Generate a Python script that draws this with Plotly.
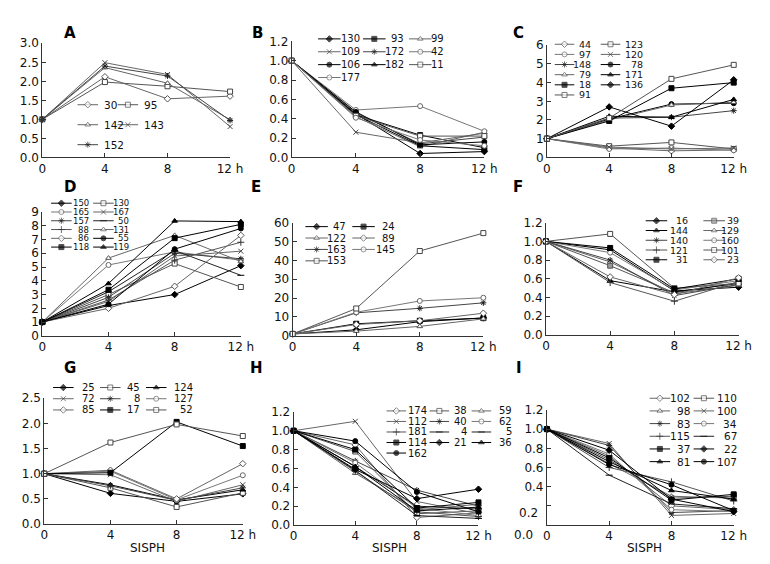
import plotly.graph_objects as go

W, H = 770, 564
TIMES = [0, 4, 8, 12]
X_TICKTEXT = ["0", "4", "8", "12 h"]

# ---------------- data ----------------
A_labels = ["30", "95", "142", "143", "152"]
A_marks = ["d", "s", "t", "x", "*"]
A_values = [
    [1.0, 2.12, 1.54, 1.61],
    [1.0, 1.98, 1.87, 1.73],
    [1.0, 2.36, 1.95, 0.99],
    [1.0, 2.49, 2.18, 0.81],
    [1.0, 2.40, 2.14, 0.97],
]

B_labels = ["130", "93", "99", "109", "172", "42", "106", "182", "11", "177"]
B_marks = ["D", "S", "t", "x", "*", "c", "C", "T", "s", "c"]
B_values = [
    [1.0, 0.45, 0.04, 0.06],
    [1.0, 0.44, 0.23, 0.10],
    [1.0, 0.42, 0.11, 0.26],
    [1.0, 0.26, 0.15, 0.25],
    [1.0, 0.46, 0.14, 0.21],
    [1.0, 0.49, 0.53, 0.27],
    [1.0, 0.47, 0.13, 0.16],
    [1.0, 0.44, 0.12, 0.08],
    [1.0, 0.43, 0.22, 0.22],
    [1.0, 0.41, 0.18, 0.12],
]

C_labels = ["44", "123", "97", "120", "148", "78", "79", "171", "18", "136", "91"]
C_marks = ["d", "s", "c", "x", "*", "C", "t", "T", "S", "D", "s"]
C_values = [
    [1.0, 0.50, 0.35, 0.40],
    [1.0, 0.60, 0.80, 0.45],
    [1.0, 0.45, 0.50, 0.38],
    [1.0, 0.55, 0.45, 0.50],
    [1.0, 2.10, 2.15, 2.50],
    [1.0, 2.05, 2.85, 2.90],
    [1.0, 2.00, 2.80, 2.95],
    [1.0, 2.20, 2.15, 3.10],
    [1.0, 1.95, 3.70, 4.00],
    [1.0, 2.70, 1.67, 4.15],
    [1.0, 2.10, 4.20, 4.95],
]

D_labels = ["150", "130", "165", "167", "157", "50", "88", "131", "86", "55", "118", "119"]
D_marks = ["D", "s", "c", "x", "*", "-", "+", "t", "d", "C", "S", "T"]
D_values = [
    [1.0, 2.20, 3.00, 5.10],
    [1.0, 3.00, 5.25, 3.55],
    [1.0, 5.15, 6.10, 5.50],
    [1.0, 2.50, 5.80, 6.15],
    [1.0, 2.80, 6.00, 5.60],
    [1.0, 3.20, 6.20, 4.40],
    [1.0, 2.60, 5.50, 6.80],
    [1.0, 5.65, 7.30, 5.40],
    [1.0, 2.00, 3.60, 7.30],
    [1.0, 2.30, 6.30, 7.80],
    [1.0, 3.35, 7.10, 8.10],
    [1.0, 3.80, 8.35, 8.30],
]

E_labels = ["47", "24", "122", "89", "163", "145", "153"]
E_marks = ["D", "S", "t", "d", "*", "c", "s"]
E_values = [
    [1.0, 3.2, 7.5, 9.5],
    [1.0, 6.4, 8.0, 9.4],
    [1.0, 2.5, 5.0, 9.0],
    [1.0, 6.0, 8.0, 12.0],
    [1.0, 12.2, 14.6, 17.5],
    [1.0, 12.5, 18.5, 20.2],
    [1.0, 14.5, 45.0, 54.5],
]

F_labels = ["16", "39", "144", "129", "140", "160", "121", "101", "31", "23"]
F_marks = ["D", "g", "T", "t", "*", "c", "+", "s", "S", "d"]
F_values = [
    [1.0, 0.91, 0.47, 0.51],
    [1.0, 0.74, 0.45, 0.56],
    [1.0, 0.58, 0.46, 0.55],
    [1.0, 0.78, 0.44, 0.53],
    [1.0, 0.80, 0.42, 0.54],
    [1.0, 0.88, 0.48, 0.58],
    [1.0, 0.56, 0.36, 0.57],
    [1.0, 1.08, 0.50, 0.55],
    [1.0, 0.93, 0.49, 0.60],
    [1.0, 0.62, 0.43, 0.61],
]

G_labels = ["25", "45", "124", "72", "8", "127", "85", "17", "52"]
G_marks = ["D", "s", "T", "x", "*", "c", "d", "S", "s"]
G_values = [
    [1.0, 0.61, 0.45, 0.60],
    [1.0, 0.72, 0.34, 0.62],
    [1.0, 0.78, 0.48, 0.68],
    [1.0, 0.98, 0.45, 0.78],
    [1.0, 0.76, 0.47, 0.72],
    [1.0, 1.05, 0.48, 0.97],
    [1.0, 1.07, 0.50, 1.20],
    [1.0, 1.02, 2.03, 1.55],
    [1.0, 1.62, 1.98, 1.75],
]

H_labels = ["174", "38", "59", "112", "40", "62", "181", "4", "5", "114", "21", "36", "162"]
H_marks = ["d", "s", "t", "x", "*", "c", "+", "-", "-", "S", "D", "T", "C"]
H_values = [
    [1.0, 0.85, 0.08, 0.13],
    [1.0, 0.78, 0.12, 0.15],
    [1.0, 0.55, 0.16, 0.22],
    [1.0, 1.10, 0.25, 0.12],
    [1.0, 0.68, 0.37, 0.20],
    [1.0, 0.66, 0.18, 0.10],
    [1.0, 0.57, 0.14, 0.09],
    [1.0, 0.62, 0.20, 0.17],
    [1.0, 0.58, 0.10, 0.07],
    [1.0, 0.80, 0.18, 0.24],
    [1.0, 0.59, 0.28, 0.38],
    [1.0, 0.62, 0.15, 0.19],
    [1.0, 0.89, 0.35, 0.14],
]

I_labels = ["102", "110", "98", "100", "83", "34", "115", "67", "37", "22", "81", "107"]
I_marks = ["d", "s", "t", "x", "*", "c", "+", "-", "S", "D", "T", "C"]
I_values = [
    [1.0, 0.72, 0.20, 0.16],
    [1.0, 0.68, 0.28, 0.30],
    [1.0, 0.64, 0.30, 0.28],
    [1.0, 0.85, 0.10, 0.12],
    [1.0, 0.83, 0.13, 0.15],
    [1.0, 0.74, 0.16, 0.14],
    [1.0, 0.60, 0.45, 0.25],
    [1.0, 0.52, 0.22, 0.17],
    [1.0, 0.70, 0.26, 0.32],
    [1.0, 0.78, 0.27, 0.14],
    [1.0, 0.66, 0.36, 0.27],
    [1.0, 0.63, 0.42, 0.15],
]

# ---------------- styles ----------------
STY = {
    "D": dict(symbol="diamond", fill="#000", edge="#000", line="#000", thin=False),
    "d": dict(symbol="diamond", fill="#fff", edge="#555", line="#666", thin=False),
    "S": dict(symbol="square", fill="#000", edge="#000", line="#000", thin=False),
    "s": dict(symbol="square", fill="#fff", edge="#444", line="#555", thin=False),
    "g": dict(symbol="square", fill="#999", edge="#555", line="#555", thin=False),
    "T": dict(symbol="triangle-up", fill="#000", edge="#000", line="#000", thin=False),
    "t": dict(symbol="triangle-up", fill="#fff", edge="#555", line="#666", thin=False),
    "C": dict(symbol="circle", fill="#000", edge="#000", line="#000", thin=False),
    "c": dict(symbol="circle", fill="#fff", edge="#666", line="#777", thin=False),
    "x": dict(symbol="x-thin-open", fill="#444", edge="#444", line="#666", thin=True),
    "*": dict(symbol="asterisk-open", fill="#222", edge="#222", line="#444", thin=True),
    "+": dict(symbol="cross-thin-open", fill="#333", edge="#333", line="#555", thin=True),
    "-": dict(symbol="line-ew-open", fill="#000", edge="#000", line="#222", thin=True),
}

FONT = "DejaVu Sans"
TICK_FS = 12


def marker_for(code, size=5):
    s = STY[code]
    if s["thin"]:
        return dict(symbol=s["symbol"], size=size, color=s["edge"],
                    line=dict(color=s["edge"], width=1))
    return dict(symbol=s["symbol"], size=size, color=s["fill"],
                line=dict(color=s["edge"], width=1))


# panel geometry (pixels) and legend layout
PANELS = [
    dict(key="A", labels=A_labels, marks=A_marks, values=A_values,
         px=(31, 223), py=(29, 146), ymax=3.0, dtick=0.5, fmt="{:.1f}",
         tag=(59, 18),
         leg=dict(cols=[(67, 92), (108, 133)], L=21, anchor="left", y0=92, dy=20.5, fs=10.5)),
    dict(key="B", labels=B_labels, marks=B_marks, values=B_values,
         px=(286, 483), py=(27, 146), ymax=1.2, dtick=0.2, fmt="{:.1f}",
         tag=(251, 18),
         leg=dict(cols=[(313, 358), (359, 403), (406, 444)], L=23, anchor="right", y0=24.5, dy=13.2, fs=10)),
    dict(key="C", labels=C_labels, marks=C_marks, values=C_values,
         px=(547, 738), py=(31, 146), ymax=6, dtick=1, fmt="{:.0f}",
         tag=(518, 18),
         leg=dict(cols=[(555, 594), (602, 647)], L=20, anchor="right", y0=30, dy=10.4, fs=9.5)),
    dict(key="D", labels=D_labels, marks=D_marks, values=D_values,
         px=(31, 234), py=(202, 329), ymax=9, dtick=1, fmt="{:.0f}",
         tag=(59, 176),
         leg=dict(cols=[(40, 81), (83, 122)], L=21, anchor="right", y0=193, dy=9, fs=8.5)),
    dict(key="E", labels=E_labels, marks=E_marks, values=E_values,
         px=(287, 482), py=(213, 329), ymax=60, dtick=10, fmt="{:.0f}",
         tag=(250, 176),
         leg=dict(cols=[(300, 344), (348, 394)], L=23, anchor="right", y0=217, dy=11.7, fs=10)),
    dict(key="F", labels=F_labels, marks=F_marks, values=F_values,
         px=(546, 743), py=(213, 328), ymax=1.2, dtick=0.2, fmt="{:.1f}",
         tag=(517, 176),
         leg=dict(cols=[(648, 693), (707, 745)], L=22, anchor="right", y0=211, dy=10, fs=9.5)),
    dict(key="G", labels=G_labels, marks=G_marks, values=G_values,
         px=(33, 236), py=(393, 522), ymax=2.5, dtick=0.5, fmt="{:.1f}",
         tag=(59, 362), xtitle=True,
         leg=dict(cols=[(42, 87), (90, 133), (137, 187)], L=21, anchor="right", y0=382, dy=11.5, fs=10)),
    dict(key="H", labels=H_labels, marks=H_marks, values=H_values,
         px=(288, 477), py=(407, 523), ymax=1.2, dtick=0.2, fmt="{:.1f}",
         tag=(250, 362), xtitle=True,
         leg=dict(cols=[(383, 426), (427, 467), (470, 513)], L=20, anchor="right", y0=406, dy=10.8, fs=10)),
    dict(key="I", labels=I_labels, marks=I_marks, values=I_values,
         px=(547, 738), py=(405, 523), ymax=1.2, dtick=0.2, fmt="{:.1f}",
         tag=(518, 362), xtitle=True, oddlabels=True,
         leg=dict(cols=[(652, 695), (697, 743)], L=21, anchor="right", y0=393, dy=13, fs=10.5)),
]

fig = go.Figure()
layout = dict(
    width=W, height=H, margin=dict(l=0, r=0, t=0, b=0),
    paper_bgcolor="white", plot_bgcolor="rgba(0,0,0,0)",
    showlegend=False, font=dict(family=FONT, color="#111"),
)
annotations = []

# overlay axis in pixel coordinates for legends / labels
layout["xaxis10"] = dict(domain=[0, 1], range=[0, W], visible=False, fixedrange=True)
layout["yaxis10"] = dict(domain=[0, 1], range=[H, 0], visible=False, fixedrange=True)

for i, p in enumerate(PANELS, start=1):
    xa, ya = f"x{i}", f"y{i}"
    x0, x1 = p["px"]
    ytop, ybot = p["py"]
    nt = int(round(p["ymax"] / p["dtick"]))
    tickvals = [k * p["dtick"] for k in range(nt + 1)]
    ticktext = [p["fmt"].format(v) for v in tickvals]
    if p.get("oddlabels"):
        ticktext = [t if v > 0.3 else "" for v, t in zip(tickvals, ticktext)]
    layout[f"xaxis{i}"] = dict(
        domain=[x0 / W, x1 / W], anchor=ya, range=[0, 12],
        tickvals=TIMES, ticktext=X_TICKTEXT, ticks="inside", ticklen=4,
        tickcolor="#333", showline=True, linecolor="#333", linewidth=1,
        showgrid=False, zeroline=False, tickfont=dict(size=TICK_FS, family=FONT, color="#111"),
        fixedrange=True,
    )
    layout[f"yaxis{i}"] = dict(
        domain=[1 - ybot / H, 1 - ytop / H], anchor=xa, range=[0, p["ymax"]],
        tickvals=tickvals, ticktext=ticktext, ticks="inside", ticklen=4,
        tickcolor="#333", showline=True, linecolor="#333", linewidth=1,
        showgrid=False, zeroline=False, tickfont=dict(size=TICK_FS, family=FONT, color="#111"),
        fixedrange=True,
    )

    for lab, mk, vals in zip(p["labels"], p["marks"], p["values"]):
        s = STY[mk]
        fig.add_trace(go.Scatter(
            x=TIMES, y=vals, xaxis=xa, yaxis=ya, mode="lines+markers", name=lab,
            line=dict(color=s["line"], width=1), marker=marker_for(mk),
            cliponaxis=False, hoverinfo="skip",
        ))

    # legend drawn manually
    lg = p["leg"]
    ncol = len(lg["cols"])
    for j, (lab, mk) in enumerate(zip(p["labels"], p["marks"])):
        r, c = divmod(j, ncol)
        lx, tx = lg["cols"][c]
        yy = lg["y0"] + r * lg["dy"]
        s = STY[mk]
        m = marker_for(mk)
        m["size"] = [0, m["size"], 0]
        m["line"]["width"] = [0, m["line"]["width"], 0]
        fig.add_trace(go.Scatter(
            x=[lx, lx + lg["L"] / 2, lx + lg["L"]], y=[yy, yy, yy],
            xaxis="x10", yaxis="y10", mode="lines+markers",
            line=dict(color=s["line"], width=1), marker=m,
            cliponaxis=False, hoverinfo="skip",
        ))
        annotations.append(dict(
            x=tx, y=yy, xref="x10", yref="y10", text=lab, showarrow=False,
            xanchor=lg["anchor"], yanchor="middle",
            font=dict(size=lg["fs"], family=FONT, color="#111"),
        ))

    # panel tag
    annotations.append(dict(
        x=p["tag"][0], y=p["tag"][1], xref="x10", yref="y10", text=f"<b>{p['key']}</b>",
        showarrow=False, xanchor="center", yanchor="middle",
        font=dict(size=15, family=FONT, color="#000"),
    ))
    if p.get("xtitle"):
        annotations.append(dict(
            x=(x0 + x1) / 2 + 4, y=547, xref="x10", yref="y10", text="SISPH",
            showarrow=False, xanchor="center", yanchor="middle",
            font=dict(size=12, family=FONT, color="#111"),
        ))
    if p.get("oddlabels"):
        for txt, yy, xr in (("0.2", 511, 540), ("0.0", 533, 535)):
            annotations.append(dict(
                x=xr, y=yy, xref="x10", yref="y10", text=txt, showarrow=False,
                xanchor="right", yanchor="middle",
                font=dict(size=TICK_FS, family=FONT, color="#111"),
            ))

layout["annotations"] = annotations
fig.update_layout(**layout)
fig.write_html("out.html")
